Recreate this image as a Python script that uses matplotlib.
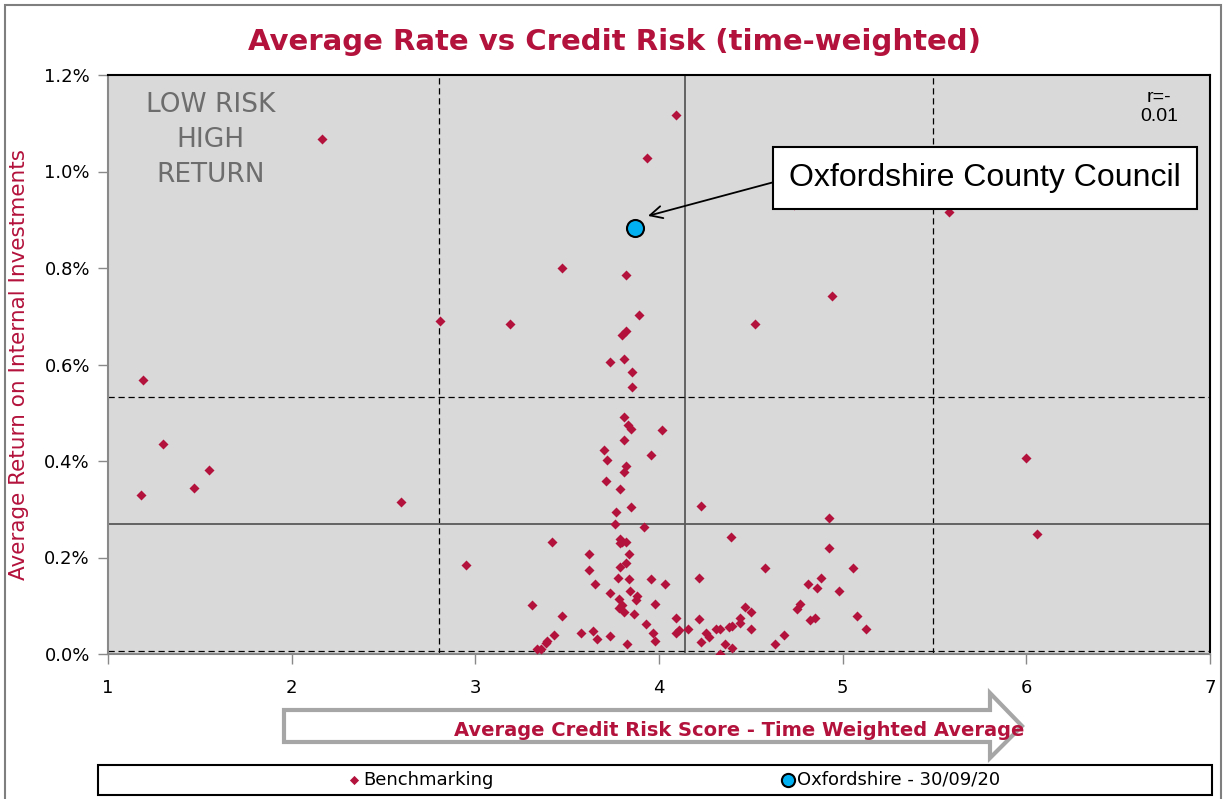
import matplotlib
matplotlib.use('Agg')
import matplotlib.pyplot as plt
from matplotlib.patches import Polygon, Rectangle
from matplotlib.ticker import FuncFormatter

# datos: puntuacion de riesgo (x) y rentabilidad media en % (y)
bench_x = [1.19, 1.30, 1.18, 1.47, 1.55, 2.165, 2.595, 2.81, 3.19, 2.95, 3.47,
           4.095, 3.935, 3.82, 3.89, 3.82, 3.80, 3.735, 3.81, 3.855, 3.855,
           4.735, 5.58, 4.94, 4.52, 6.00, 6.06,
           3.81, 3.83, 3.845, 4.015, 3.81, 3.70, 3.715, 3.955, 3.82, 3.81, 3.71,
           3.785, 3.765, 3.845, 3.76, 3.92, 4.23,
           3.42, 3.79, 3.80, 3.785, 3.82, 3.835, 4.39, 3.62, 3.62, 3.79, 3.82,
           3.65, 3.775, 3.835, 3.955, 4.03, 4.22, 3.735, 3.31, 3.78, 3.80, 3.78,
           3.81, 3.84, 3.88, 3.875, 3.98, 3.865, 3.47, 4.095, 4.22, 3.93, 3.43,
           3.39, 3.385, 3.335, 3.36, 3.575, 3.64, 3.66, 3.735, 3.825, 3.965, 3.98,
           4.095, 4.11, 4.16, 4.23, 4.255, 4.27, 4.31, 4.33, 4.33, 4.36, 4.40,
           4.38, 4.40, 4.44, 4.44, 4.47, 4.50, 4.50,
           4.925, 4.925, 4.575, 5.055, 4.81, 4.88, 4.86, 4.98, 4.77, 4.75, 4.82,
           4.85, 5.08, 5.125, 4.63, 4.68]
bench_y = [0.568, 0.436, 0.330, 0.344, 0.382, 1.068, 0.316, 0.690, 0.683, 0.184, 0.800,
           1.117, 1.027, 0.785, 0.702, 0.669, 0.661, 0.605, 0.612, 0.585, 0.553,
           0.931, 0.916, 0.742, 0.683, 0.406, 0.249,
           0.491, 0.475, 0.466, 0.464, 0.444, 0.423, 0.402, 0.412, 0.390, 0.377, 0.359,
           0.342, 0.294, 0.305, 0.269, 0.263, 0.307,
           0.232, 0.238, 0.232, 0.230, 0.232, 0.208, 0.243, 0.208, 0.174, 0.180, 0.189,
           0.145, 0.158, 0.155, 0.155, 0.145, 0.158, 0.126, 0.102, 0.114, 0.102, 0.095,
           0.087, 0.131, 0.120, 0.112, 0.104, 0.083, 0.079, 0.075, 0.073, 0.062, 0.039,
           0.027, 0.023, 0.010, 0.010, 0.044, 0.048, 0.031, 0.037, 0.021, 0.044, 0.027,
           0.044, 0.050, 0.052, 0.025, 0.044, 0.035, 0.052, 0.052, 0.000, 0.021, 0.012,
           0.056, 0.058, 0.075, 0.064, 0.097, 0.087, 0.052,
           0.282, 0.220, 0.178, 0.178, 0.145, 0.158, 0.137, 0.131, 0.104, 0.093, 0.070,
           0.075, 0.079, 0.052, 0.021, 0.039]

oxford_x = [3.87]
oxford_y = [0.883]

# lineas de referencia (cuartiles / medias)
ref_x_dashed = [2.8, 5.49]
ref_x_solid = 4.14
ref_y_dashed = [0.533, 0.006]
ref_y_solid = 0.270

x_ticks = [1, 2, 3, 4, 5, 6, 7]
y_ticks = [0.0, 0.2, 0.4, 0.6, 0.8, 1.0, 1.2]

CRIMSON = '#b3123c'
W, H = 1224, 799


def px(x, y):
    # pixeles de la figura a fraccion
    return (x / W, 1 - y / H)


if __name__ == '__main__':
    plt.rcParams['font.family'] = ['DejaVu Sans']

    fig = plt.figure(figsize=(W / 100, H / 100), dpi=100, facecolor='white')
    ax = fig.add_axes([108 / W, 1 - 654 / H, (1210 - 108) / W, (654 - 75) / H])
    ax.set_facecolor('#d9d9d9')

    # cuadrantes
    for xv in ref_x_dashed:
        ax.axvline(xv, color='black', lw=0.9, ls=(0, (5, 3)), zorder=1)
    ax.axvline(ref_x_solid, color='#595959', lw=1.3, zorder=1)
    for yv in ref_y_dashed:
        ax.axhline(yv, color='black', lw=0.9, ls=(0, (5, 3)), zorder=1)
    ax.axhline(ref_y_solid, color='#595959', lw=1.3, zorder=1)

    bench = ax.scatter(bench_x, bench_y, marker='D', s=26, color=CRIMSON,
                       linewidths=0, zorder=3, label='Benchmarking')
    oxf = ax.scatter(oxford_x, oxford_y, marker='o', s=150, color='#00b0f0',
                     edgecolors='black', linewidths=1.5, zorder=4,
                     label='Oxfordshire - 30/09/20')

    ax.set_xlim(1, 7)
    ax.set_ylim(0, 1.2)
    ax.set_xticks(x_ticks)
    ax.set_yticks(y_ticks)
    ax.yaxis.set_major_formatter(FuncFormatter(lambda v, p: f'{v:.1f}%'))
    ax.tick_params(axis='both', direction='out', length=7, width=1,
                   color='#898989', labelsize=13, labelcolor='black')
    ax.tick_params(axis='x', pad=11)
    ax.tick_params(axis='y', pad=6)
    for s in ['left', 'bottom']:
        ax.spines[s].set_color('#898989')
        ax.spines[s].set_linewidth(1.5)
    for s in ['top', 'right']:
        ax.spines[s].set_color('black')
        ax.spines[s].set_linewidth(1.5)

    ax.set_ylabel('Average Return on Internal Investments', color=CRIMSON,
                  fontsize=15.5)
    ax.yaxis.set_label_coords(-0.072, 0.5)

    # titulo
    fig.text(*px(615, 42), 'Average Rate vs Credit Risk (time-weighted)',
             ha='center', va='center', color=CRIMSON, fontsize=21,
             fontweight='bold')

    # textos dentro del grafico
    ax.text(0.093, 0.888, 'LOW RISK\nHIGH\nRETURN', transform=ax.transAxes,
            ha='center', va='center', color='#6d6d6d', fontsize=19,
            linespacing=1.45)
    ax.text(0.954, 0.976, 'r=-\n0.01', transform=ax.transAxes, ha='center',
            va='top', fontsize=14, family='Liberation Sans', linespacing=1.15)

    ax.annotate('Oxfordshire County Council', xy=(oxford_x[0] + 0.07, oxford_y[0] + 0.025),
                xytext=px(985, 178), textcoords='figure fraction',
                ha='center', va='center', fontsize=23, family='Liberation Sans',
                bbox=dict(boxstyle='square,pad=0.5', fc='white', ec='black', lw=1.5),
                arrowprops=dict(arrowstyle='->', color='black', lw=1.3,
                                mutation_scale=22, shrinkA=0, shrinkB=0,
                                relpos=(0, 0.5)),
                zorder=5)

    # flecha grande del eje x
    arrow = [px(284, 710), px(990, 710), px(990, 693), px(1022, 726),
             px(990, 758), px(990, 742), px(284, 742)]
    fig.add_artist(Polygon(arrow, closed=True, transform=fig.transFigure,
                           fc='white', ec='#a6a6a6', lw=3))
    fig.text(*px(739, 730), 'Average Credit Risk Score - Time Weighted Average',
             ha='center', va='center', color=CRIMSON, fontsize=14,
             fontweight='bold')

    # leyenda
    x0, y0 = px(98, 795)
    x1, y1 = px(1212, 765)
    fig.add_artist(Rectangle((x0, y0), x1 - x0, y1 - y0, transform=fig.transFigure,
                             fc='white', ec='black', lw=1.5))
    leg = fig.legend(handles=[bench, oxf], loc='center', bbox_to_anchor=px(674, 780),
                     ncol=2, frameon=False, fontsize=13, columnspacing=16,
                     handletextpad=0.15, handlelength=0.7, borderpad=0)
    leg.legend_handles[0].set_sizes([22])
    leg.legend_handles[1].set_sizes([90])

    # marco exterior
    fig.add_artist(Rectangle(px(5, 805), (1221 - 5) / W, (805 - 5) / H,
                             transform=fig.transFigure, fill=False,
                             ec='#7f7f7f', lw=1.5))

    plt.savefig('out.png', dpi=100)
